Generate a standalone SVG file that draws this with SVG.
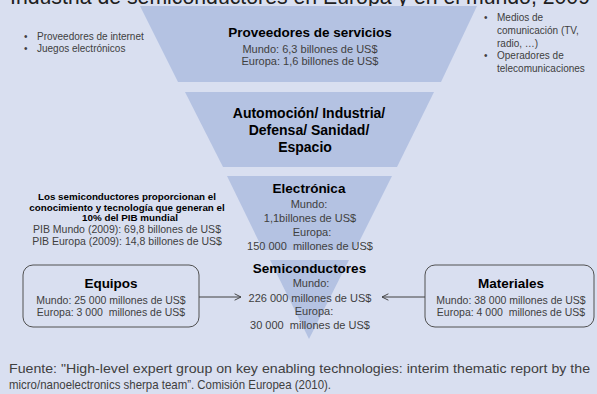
<svg xmlns="http://www.w3.org/2000/svg" width="597" height="394" viewBox="0 0 597 394">
<defs>
<style>
text{font-family:"Liberation Sans",Arial,sans-serif;}
.h{font-weight:bold;font-size:13.5px;fill:#000;text-anchor:middle;}
.v{font-size:11px;fill:#404040;text-anchor:middle;}
.b{font-size:10px;fill:#404040;}
.lb{font-weight:bold;font-size:9.8px;fill:#000;text-anchor:middle;}
.lv{font-size:10.5px;fill:#404040;text-anchor:middle;}
.f{font-size:13px;fill:#404040;}
.funnel{fill:#b4c2e2;}
.box{fill:none;stroke:#505050;stroke-width:1;}
.conn{stroke:#404040;stroke-width:1;fill:none;}
</style>
<marker id="arr" viewBox="0 0 10 10" refX="9" refY="5" markerWidth="8" markerHeight="8" markerUnits="userSpaceOnUse" orient="auto">
<path d="M1,1 L9,5 L1,9" fill="none" stroke="#404040" stroke-width="1.2"/>
</marker>
</defs>
<rect x="0" y="0" width="597" height="394" fill="#d9dff0"/>
<text x="10" y="3.5" style="font-size:21.5px;fill:#202020" textLength="580" lengthAdjust="spacingAndGlyphs">Industria de semiconductores en Europa y en el mundo, 2009</text>

<g id="proveedores">
<polygon class="funnel" points="140,6 477,6 441,82 178,82"/>
<text class="h" x="310" y="37">Proveedores de servicios</text>
<text class="v" x="310" y="53">Mundo: 6,3 billones de US$</text>
<text class="v" x="310" y="65">Europa: 1,6 billones de US$</text>
</g>

<g id="bullets-izq">
<text class="b" x="24" y="40">•</text><text class="b" x="37" y="40">Proveedores de internet</text>
<text class="b" x="24" y="52">•</text><text class="b" x="37" y="52">Juegos electrónicos</text>
</g>

<g id="bullets-der">
<text class="b" x="484" y="21">•</text><text class="b" x="497" y="21">Medios de</text>
<text class="b" x="497" y="34">comunicación (TV,</text>
<text class="b" x="497" y="46.5">radio, …)</text>
<text class="b" x="484" y="59">•</text><text class="b" x="497" y="59">Operadores de</text>
<text class="b" x="497" y="72">telecomunicaciones</text>
</g>

<g id="automocion">
<polygon class="funnel" points="185,92 434,92 397,167 223,167"/>
<text class="h" x="309" y="118" style="font-size:14px">Automoción/ Industria/</text>
<text class="h" x="309" y="135" style="font-size:14px">Defensa/ Sanidad/</text>
<text class="h" x="305" y="152" style="font-size:14px">Espacio</text>
</g>

<g id="electronica">
<polygon class="funnel" points="227,176 392,176 355,250 263,250"/>
<text class="h" x="309" y="193">Electrónica</text>
<text class="v" x="309" y="208">Mundo:</text>
<text class="v" x="310" y="222">1,1billones de US$</text>
<text class="v" x="312" y="236">Europa:</text>
<text class="v" x="310" y="250" xml:space="preserve">150 000  millones de US$</text>
</g>

<g id="pib">
<text class="lb" x="127" y="200">Los semiconductores proporcionan el</text>
<text class="lb" x="127" y="210.5">conocimiento y tecnología que generan el</text>
<text class="lb" x="130" y="221">10% del PIB mundial</text>
<text class="lv" x="127" y="233">PIB Mundo (2009): 69,8 billones de US$</text>
<text class="lv" x="127" y="244.5">PIB Europa (2009): 14,8 billones de US$</text>
</g>

<g id="semiconductores">
<polygon class="funnel" points="270,260 349,260 309,339"/>
<text class="h" x="309.5" y="273">Semiconductores</text>
<text class="v" x="311" y="287">Mundo:</text>
<text class="v" x="310" y="302">226 000 millones de US$</text>
<text class="v" x="314" y="315">Europa:</text>
<text class="v" x="310" y="329" xml:space="preserve">30 000  millones de US$</text>
</g>

<g id="equipos">
<rect class="box" x="23" y="265" width="176" height="62" rx="10"/>
<text class="h" x="111" y="288">Equipos</text>
<text class="lv" x="111" y="304">Mundo: 25 000 millones de US$</text>
<text class="lv" x="111" y="316" xml:space="preserve">Europa: 3 000  millones de US$</text>
</g>

<g id="materiales">
<rect class="box" x="425" y="265" width="169" height="62" rx="10"/>
<text class="h" x="511" y="288">Materiales</text>
<text class="lv" x="511" y="304">Mundo: 38 000 millones de US$</text>
<text class="lv" x="511" y="316" xml:space="preserve">Europa: 4 000  millones de US$</text>
</g>

<g id="connectors">
<line class="conn" x1="199" y1="297" x2="241" y2="297" marker-end="url(#arr)"/>
<line class="conn" x1="425" y1="297" x2="382" y2="297" marker-end="url(#arr)"/>
</g>

<g id="fuente">
<text class="f" x="9" y="373" textLength="581" lengthAdjust="spacingAndGlyphs">Fuente: "High-level expert group on key enabling technologies: interim thematic report by the</text>
<text class="f" x="9" y="389" textLength="322" lengthAdjust="spacingAndGlyphs">micro/nanoelectronics sherpa team”. Comisión Europea (2010).</text>
</g>
</svg>
